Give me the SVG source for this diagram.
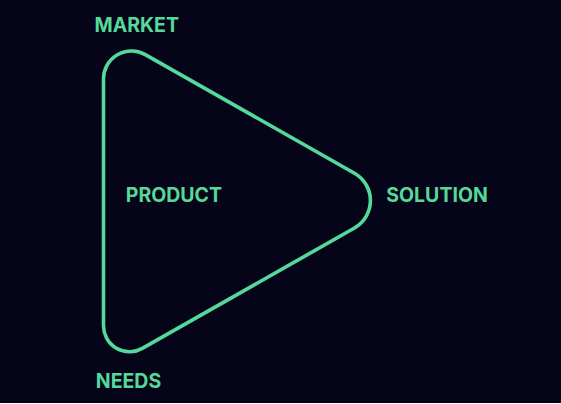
<svg xmlns="http://www.w3.org/2000/svg" width="561" height="404" viewBox="0 0 561 404">
  <style>
    .lbl { font-family: Inter, "Liberation Sans", sans-serif; font-weight: 700; font-size: 19.5px; fill: #55d99b; }
    .shape { fill: none; stroke: #55d99b; stroke-width: 3.6; stroke-linejoin: round; }
  </style>
  <rect x="0" y="0" width="561" height="403" fill="#050418"/>
  <g id="connectors">
    <path id="triangle" class="shape" d="M 103.5 78.95 A 28 28 0 0 1 145.3 54.59 L 354.49 173.22 A 31.5 31.5 0 0 1 354.49 227.98 L 142.32 348.4 A 26 26 0 0 1 103.5 325.78 Z"/>
  </g>
  <g id="market"><text class="lbl" x="94.5" y="32.3">MARKET</text></g>
  <g id="product"><text class="lbl" x="125.8" y="202.3">PRODUCT</text></g>
  <g id="solution"><text class="lbl" x="386.3" y="202.3">SOLUTION</text></g>
  <g id="needs"><text class="lbl" x="95.8" y="388.3">NEEDS</text></g>
</svg>
